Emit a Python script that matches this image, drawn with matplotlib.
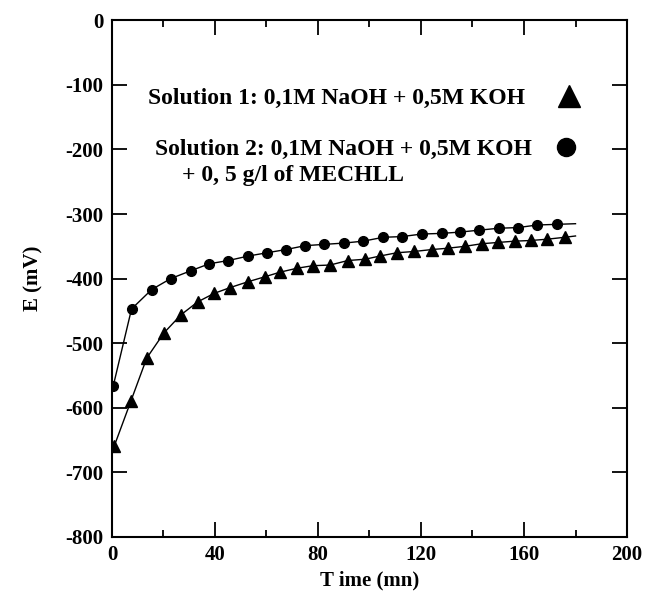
import numpy as np
import matplotlib
matplotlib.use("Agg")
import matplotlib.pyplot as plt
from matplotlib.ticker import MultipleLocator

plt.rcParams['font.family'] = ['Liberation Serif', 'DejaVu Serif']
plt.rcParams['font.weight'] = 'bold'
plt.rcParams['axes.unicode_minus'] = False

# Solution 1 (triangles): 0,1M NaOH + 0,5M KOH
t1 = [0.9, 7.4, 13.5, 20.2, 26.8, 33.3, 39.6, 45.8, 52.7, 59.5, 65.3, 71.8, 78.0, 84.7,
      91.6, 98.3, 104.1, 110.6, 117.3, 124.2, 130.3, 137.1, 143.6, 150.0, 156.5, 162.6,
      169.0, 175.9]
e1 = [-659, -589, -523, -484, -456, -436, -423, -414, -405, -397, -390, -384, -380, -379,
      -372, -370, -365, -360, -358, -355, -353, -350, -346, -344, -342, -341, -339, -336]

# Solution 2 (circles): + 0,5 g/l of MECHLL
t2 = [0.5, 7.6, 15.4, 22.8, 30.5, 37.8, 45.2, 53.0, 60.2, 67.6, 75.0, 82.4, 90.1, 97.6,
      105.4, 112.5, 120.3, 128.0, 135.1, 142.6, 150.3, 157.7, 165.1, 172.7]
e2 = [-566, -447, -417, -400, -388, -377, -372, -365, -360, -355, -349, -347, -345, -342,
      -336, -335, -331, -330, -328, -325, -322, -321, -317, -316]

# fitted curves run a bit past the last point
fit_end_t = 180
fit_end_e1 = -334
fit_end_e2 = -315

fig = plt.figure(figsize=(6.45, 5.95), dpi=100)
ax = fig.add_axes([0.1736, 0.0975, 0.7985, 0.8685])

ax.plot(t1 + [fit_end_t], e1 + [fit_end_e1], color='black', lw=1.0)
ax.plot(t2 + [fit_end_t], e2 + [fit_end_e2], color='black', lw=1.0)
ax.plot(t1, e1, linestyle='none', marker='^', color='black', markersize=9)
ax.plot(t2, e2, linestyle='none', marker='o', color='black', markersize=7)

ax.set_xlim(0, 200)
ax.set_ylim(-800, 0)
ax.xaxis.set_major_locator(MultipleLocator(40))
ax.xaxis.set_minor_locator(MultipleLocator(20))
ax.yaxis.set_major_locator(MultipleLocator(100))
ax.tick_params(which='both', direction='in', top=True, right=True,
               labelsize=15, width=1.3, pad=6)
ax.tick_params(which='major', length=11)
ax.tick_params(which='minor', length=5)
for s in ax.spines.values():
    s.set_linewidth(1.5)

ax.set_xlabel('T ime (mn)', fontsize=15, fontweight='bold', labelpad=4)
ax.set_ylabel('E (mV)', fontsize=15, fontweight='bold', labelpad=16)

# legend
ax.text(0.070, 0.849, 'Solution 1: 0,1M NaOH + 0,5M KOH', transform=ax.transAxes,
        fontsize=17, fontweight='bold', va='center', ha='left')
ax.plot([0.887], [0.853], marker='^', color='black', markersize=16,
        transform=ax.transAxes, clip_on=False)
ax.text(0.083, 0.749, 'Solution 2: 0,1M NaOH + 0,5M KOH', transform=ax.transAxes,
        fontsize=17, fontweight='bold', va='center', ha='left')
ax.text(0.136, 0.700, '+ 0, 5 g/l of MECHLL', transform=ax.transAxes,
        fontsize=17, fontweight='bold', va='center', ha='left')
ax.plot([0.882], [0.755], marker='o', color='black', markersize=13,
        transform=ax.transAxes, clip_on=False)

fig.savefig('out.png', dpi=100)
